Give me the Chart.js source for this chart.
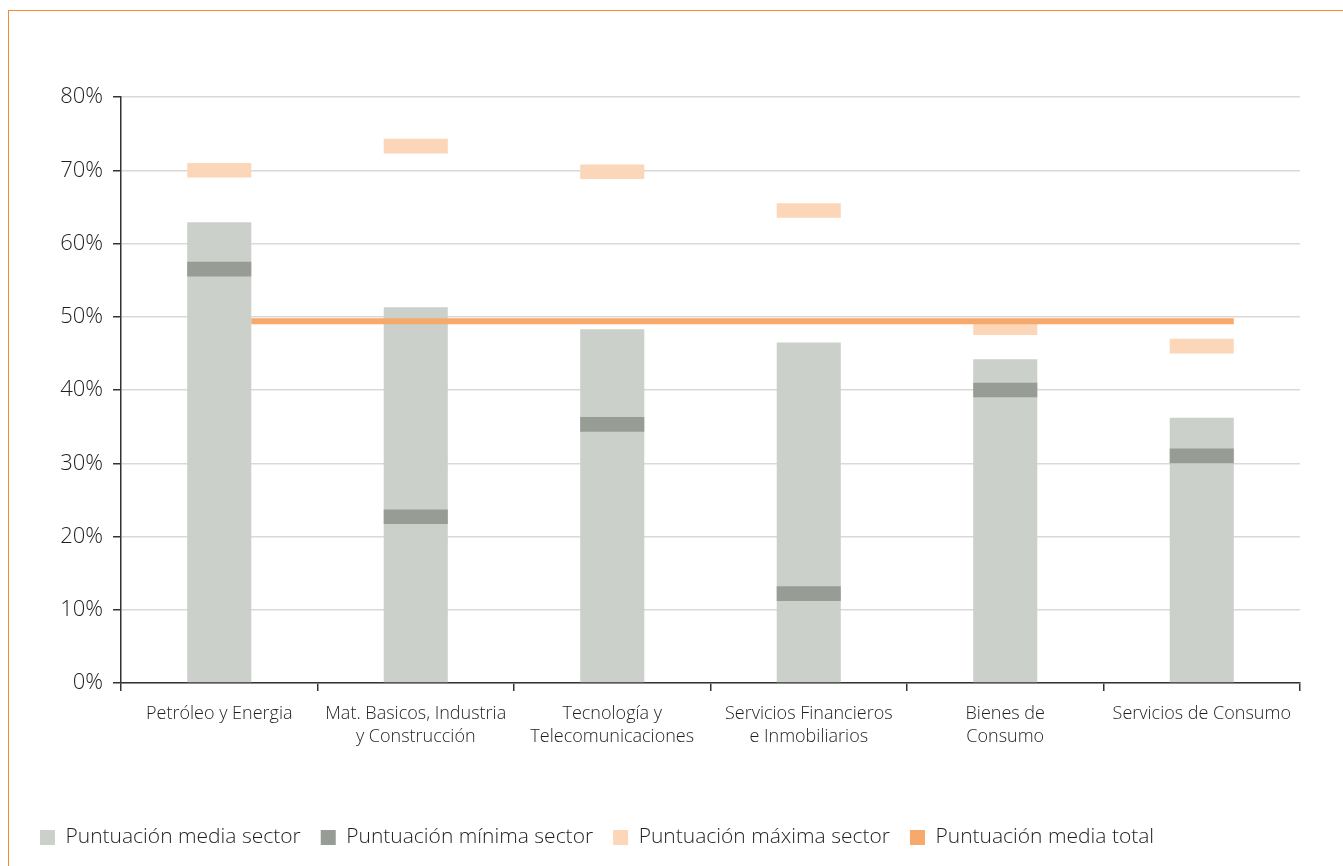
<!DOCTYPE html>
<html>
<head>
<meta charset="utf-8">
<script src="https://cdn.jsdelivr.net/npm/chart.js@4.4.1/dist/chart.umd.min.js"></script>
<style>
  html, body { margin: 0; padding: 0; background: #fff; overflow: hidden; }
  #frame { position: absolute; left: 8px; top: 10px; width: 2000px; height: 2000px;
           border-top: 1.5px solid #f28a2e; border-left: 1.5px solid #f28a2e; }
  #wrap { position: absolute; left: 0; top: 0; width: 1343px; height: 866px; }
</style>
</head>
<body>
<div id="frame"></div>
<div id="wrap"><canvas id="chart-canvas"></canvas></div>
<script>
const categories = [
  ['Petróleo y Energia'],
  ['Mat. Basicos, Industria', 'y Construcción'],
  ['Tecnología y', 'Telecomunicaciones'],
  ['Servicios Financieros', 'e Inmobiliarios'],
  ['Bienes de', 'Consumo'],
  ['Servicios de Consumo']
];
const mediaSector = [62.9, 51.3, 48.3, 46.5, 44.2, 36.2];
const minimaSector = [56.5, 22.7, 35.3, 12.2, 40.0, 31.0];
const maximaSector = [70.0, 73.3, 69.8, 64.5, 48.5, 46.0];
const mediaTotal = [49.4, 49.4, 49.4, 49.4, 49.4, 49.4];
const yTicks = [0, 10, 20, 30, 40, 50, 60, 70, 80];

// marker half-height (in % units) for the min/max bands
const MARK = 1;
const FONT = '"Open Sans", "Noto Sans", sans-serif';

// the total-average line is drawn shifted by half a bar, like the original
const shiftLine = {
  id: 'shiftLine',
  beforeDatasetDraw(chart, args) {
    if (args.meta.type !== 'line') return;
    const bar = chart.getDatasetMeta(0).data[0];
    chart.ctx.save();
    chart.ctx.translate(bar.width / 2, 0);
  },
  afterDatasetDraw(chart, args) {
    if (args.meta.type !== 'line') return;
    chart.ctx.restore();
  }
};

const chartCtx = document.getElementById('chart-canvas');

const barChart = new Chart(chartCtx, {
  type: 'bar',
  data: {
    labels: categories,
    datasets: [
      {
        label: 'Puntuación media sector',
        data: mediaSector,
        backgroundColor: '#cbd0ca',
        grouped: false,
        order: 3
      },
      {
        label: 'Puntuación mínima sector',
        data: minimaSector.map(v => [v - MARK, v + MARK]),
        backgroundColor: '#979c94',
        grouped: false,
        order: 2
      },
      {
        label: 'Puntuación máxima sector',
        data: maximaSector.map(v => [v - MARK, v + MARK]),
        backgroundColor: '#fbd6b9',
        grouped: false,
        order: 1
      },
      {
        label: 'Puntuación media total',
        type: 'line',
        data: mediaTotal,
        borderColor: '#f6a96b',
        backgroundColor: '#f6a96b',
        borderWidth: 6,
        pointRadius: 0,
        order: 0
      }
    ]
  },
  options: {
    responsive: true,
    maintainAspectRatio: false,
    animation: false,
    barPercentage: 0.326,
    categoryPercentage: 1,
    layout: { padding: { left: 20, right: 43, top: 97, bottom: 8 } },
    plugins: {
      tooltip: { enabled: false },
      legend: {
        position: 'bottom',
        align: 'start',
        labels: {
          boxWidth: 15,
          boxHeight: 15,
          padding: 20,
          color: '#1f1f1f',
          font: { family: FONT, size: 21, weight: 300 },
          sort: (a, b) => a.datasetIndex - b.datasetIndex,
          generateLabels(chart) {
            return Chart.defaults.plugins.legend.labels.generateLabels(chart)
              .map(l => Object.assign(l, { lineWidth: 0 }));
          }
        }
      }
    },
    scales: {
      x: {
        afterFit(scale) { scale.height = 124; },
        grid: { drawOnChartArea: false, color: '#333', tickLength: 8, lineWidth: 1.5 },
        border: { color: '#333', width: 1.5 },
        ticks: {
          color: '#1f1f1f',
          padding: 11,
          maxRotation: 0,
          font: { family: FONT, size: 18, weight: 300, lineHeight: 1.3 }
        }
      },
      y: {
        min: 0,
        max: 80,
        afterFit(scale) { scale.width = 101; },
        afterBuildTicks(scale) { scale.ticks = yTicks.map(v => ({ value: v })); },
        grid: { color: '#d9d9d9', lineWidth: 1.5, tickColor: '#333', tickLength: 8 },
        border: { color: '#333', width: 1.5 },
        ticks: {
          color: '#1f1f1f',
          padding: 10,
          font: { family: FONT, size: 22, weight: 300 },
          callback: v => v + '%'
        }
      }
    }
  },
  plugins: [shiftLine]
});
</script>
</body>
</html>
